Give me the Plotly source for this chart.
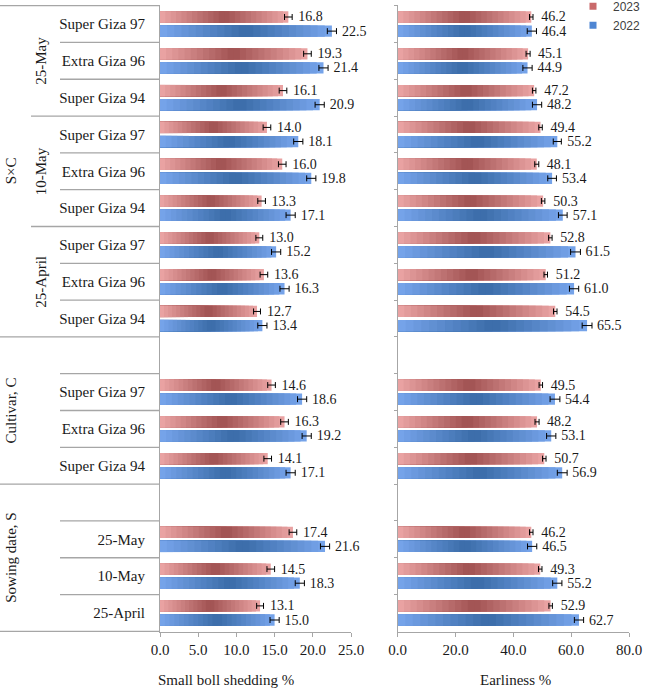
import plotly.graph_objects as go

# ---------------- data ----------------
dates = ["25-May", "10-May", "25-April"]
cultivars = ["Super Giza 97", "Extra Giza 96", "Super Giza 94"]

# row labels, top to bottom (S×C block, Cultivar block, Sowing-date block)
row_labels = cultivars * 3 + cultivars + dates
row_ids = ([f"S×C | {d} | {c}" for d in dates for c in cultivars]
           + [f"Cultivar | {c}" for c in cultivars]
           + [f"Sowing | {d}" for d in dates])
category_order = row_ids[0:9] + ["gap 1"] + row_ids[9:12] + ["gap 2"] + row_ids[12:15]

shed_2023 = [16.8, 19.3, 16.1, 14.0, 16.0, 13.3, 13.0, 13.6, 12.7, 14.6, 16.3, 14.1, 17.4, 14.5, 13.1]
shed_2022 = [22.5, 21.4, 20.9, 18.1, 19.8, 17.1, 15.2, 16.3, 13.4, 18.6, 19.2, 17.1, 21.6, 18.3, 15.0]
shed_err_2023 = [0.5, 0.5, 0.5, 0.5, 0.5, 0.5, 0.45, 0.5, 0.45, 0.5, 0.5, 0.5, 0.5, 0.5, 0.45]
shed_err_2022 = [0.6, 0.6, 0.6, 0.6, 0.6, 0.6, 0.6, 0.6, 0.6, 0.6, 0.6, 0.6, 0.6, 0.6, 0.6]

earl_2023 = [46.2, 45.1, 47.2, 49.4, 48.1, 50.3, 52.8, 51.2, 54.5, 49.5, 48.2, 50.7, 46.2, 49.3, 52.9]
earl_2022 = [46.4, 44.9, 48.2, 55.2, 53.4, 57.1, 61.5, 61.0, 65.5, 54.4, 53.1, 56.9, 46.5, 55.2, 62.7]
earl_err_2023 = [0.6, 0.7, 0.6, 0.6, 0.7, 0.6, 0.6, 0.6, 0.6, 0.6, 0.7, 0.6, 0.6, 0.6, 0.6]
earl_err_2022 = [1.6, 1.6, 1.6, 1.4, 1.5, 1.5, 1.7, 1.6, 1.7, 1.7, 1.6, 1.7, 1.6, 1.6, 1.6]

years = ["2023", "2022"]

# ---------------- style ----------------
SERIF = "Liberation Serif, Times New Roman, serif"
TXT = "#1a1a1a"
GRID = "#a6a6a6"
EDGE = {"2023": (236, 165, 165), "2022": (120, 165, 236)}
CENTER = {"2023": (160, 82, 82), "2022": (58, 108, 168)}
LEGEND_COL = {"2023": "#c9696a", "2022": "#4f86d3"}
N_SEG = 24


def grad(year, t):
    s = 1 - abs(2 * t - 1)
    e, c = EDGE[year], CENTER[year]
    r, g, b = (round(e[i] + (c[i] - e[i]) * s) for i in range(3))
    return f"rgb({r},{g},{b})"


fig = go.Figure()


def add_panel(xa, ya, vals, errs):
    for year, v, er in zip(years, vals, errs):
        og = "g" + year
        # gradient made from overlapping bars (longest first, shortest on top)
        for k in range(N_SEG - 1, -1, -1):
            fig.add_trace(go.Bar(
                y=row_ids, x=[val * (k + 1) / N_SEG for val in v], base=0,
                orientation="h", offsetgroup=og, xaxis=xa, yaxis=ya,
                marker=dict(color=grad(year, (k + 0.5) / N_SEG), line=dict(width=0)),
                showlegend=False, hoverinfo="skip"))
        # full-length transparent bar carrying error bars and value labels
        fig.add_trace(go.Bar(
            y=row_ids, x=v, base=0, orientation="h", offsetgroup=og,
            xaxis=xa, yaxis=ya, name=year,
            marker=dict(color="rgba(0,0,0,0)", line=dict(width=0)),
            error_x=dict(type="data", array=er, visible=True, color="#000000",
                         thickness=1, width=3),
            text=["\u00a0\u00a0" + f"{val:.1f}" for val in v],
            textposition="outside", constraintext="none", cliponaxis=False,
            textfont=dict(family=SERIF, size=14, color=TXT),
            showlegend=False))


add_panel("x", "y", [shed_2023, shed_2022], [shed_err_2023, shed_err_2022])
add_panel("x2", "y2", [earl_2023, earl_2022], [earl_err_2023, earl_err_2022])

# legend entries
for year in years:
    fig.add_trace(go.Scatter(x=[None], y=[None], mode="markers", name=year,
                             marker=dict(symbol="square", size=7, color=LEGEND_COL[year])))

W, H = 646, 689
ydom = [1 - 632 / H, 1 - 5 / H]

fig.update_layout(
    width=W, height=H, margin=dict(l=0, r=0, t=0, b=0, autoexpand=False),
    paper_bgcolor="white", plot_bgcolor="white",
    barmode="group", bargap=0.233, bargroupgap=0.2,
    font=dict(family=SERIF, size=15, color=TXT),
    showlegend=True,
    legend=dict(x=1.0, y=1.012, xanchor="right", yanchor="top",
                font=dict(family="Liberation Sans, Arial, sans-serif", size=12, color="#404040"),
                tracegroupgap=0, itemwidth=30, bgcolor="rgba(0,0,0,0)"),
    xaxis=dict(domain=[160 / W, 351 / W], range=[0, 25], dtick=5, tickformat=".1f",
               showline=True, linecolor=GRID, linewidth=1, ticks="outside", ticklen=4,
               tickcolor=GRID, showgrid=False, zeroline=False, anchor="y",
               tickfont=dict(family=SERIF, size=15, color=TXT)),
    xaxis2=dict(domain=[397.7 / W, 629 / W], range=[0, 80], dtick=20, tickformat=".1f",
                showline=True, linecolor=GRID, linewidth=1, ticks="outside", ticklen=4,
                tickcolor=GRID, showgrid=False, zeroline=False, anchor="y2",
                tickfont=dict(family=SERIF, size=15, color=TXT)),
    yaxis=dict(domain=ydom, type="category", categoryorder="array",
               categoryarray=category_order, autorange="reversed", anchor="x",
               tickmode="array", tickvals=row_ids, ticktext=row_labels,
               ticks="", ticklabelstandoff=11, showline=True, linecolor=GRID,
               showgrid=False, tickfont=dict(family=SERIF, size=15, color=TXT)),
    yaxis2=dict(domain=ydom, type="category", categoryorder="array",
                categoryarray=category_order, autorange="reversed", anchor="x2",
                matches="y", showticklabels=False, ticks="outside", ticklen=3,
                tickson="boundaries", tickcolor=GRID, showline=True, linecolor=GRID,
                showgrid=False),
)

# category table lines (boundary index, left x in px)
boundaries = [(-0.5, 0), (0.5, 60), (1.5, 60), (2.5, 31), (3.5, 60), (4.5, 60), (5.5, 31),
              (6.5, 60), (7.5, 60), (8.5, 0), (9.5, 60), (10.5, 60), (11.5, 60), (12.5, 0),
              (13.5, 60), (14.5, 60), (15.5, 60), (16.5, 0)]
for yb, x0 in boundaries:
    fig.add_shape(type="line", xref="paper", yref="y", x0=x0 / W, x1=160 / W, y0=yb, y1=yb,
                  line=dict(color=GRID, width=1.3))

# group labels
group_labels = [("25-May", 41, 1), ("10-May", 41, 4), ("25-April", 41, 7),
                ("S×C", 11, 4), ("Cultivar, C", 11, 10.5), ("Sowing date, S", 11, 14.5)]
for txt, xp, yi in group_labels:
    fig.add_annotation(text=txt, xref="paper", yref="y", x=xp / W, y=yi, textangle=-90,
                       showarrow=False, xanchor="center", yanchor="middle",
                       font=dict(family=SERIF, size=15, color=TXT))

# axis titles
fig.add_annotation(text="Small boll shedding %", xref="paper", yref="paper",
                   x=226 / W, y=1 - 680 / H, showarrow=False, xanchor="center", yanchor="middle",
                   font=dict(family=SERIF, size=15, color=TXT))
fig.add_annotation(text="Earliness %", xref="paper", yref="paper",
                   x=515 / W, y=1 - 680 / H, showarrow=False, xanchor="center", yanchor="middle",
                   font=dict(family=SERIF, size=15, color=TXT))

fig.write_html("out.html")
